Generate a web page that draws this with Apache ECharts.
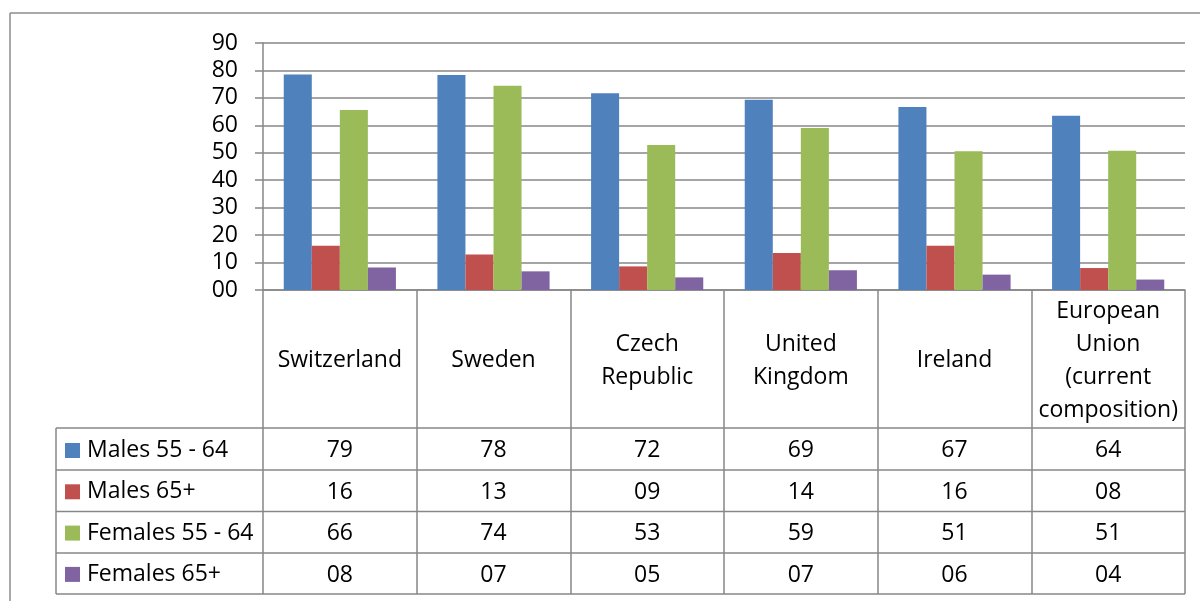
<!DOCTYPE html>
<html>
<head>
<meta charset="utf-8">
<script src="https://cdn.jsdelivr.net/npm/echarts@6/dist/echarts.min.js"></script>
<style>
  html, body { margin: 0; padding: 0; background: #fff; }
  #chart { width: 1200px; height: 601px; }
</style>
</head>
<body>
<div id="chart"></div>
<script>
const categories = ['Switzerland', 'Sweden', 'Czech Republic', 'United Kingdom', 'Ireland', 'European Union (current composition)'];
const seriesNames = ['Males 55 - 64', 'Males 65+', 'Females 55 - 64', 'Females 65+'];
const males5564 = [78.5, 78.3, 71.7, 69.3, 66.7, 63.5];
const males65 = [16.1, 12.9, 8.6, 13.5, 16.1, 8.0];
const females5564 = [65.6, 74.4, 52.8, 59.0, 50.6, 50.7];
const females65 = [8.2, 6.8, 4.6, 7.2, 5.6, 3.8];
const colors = ['#4F81BD', '#C0504D', '#9BBB59', '#8064A2'];
const yMin = 0, yMax = 90, yStep = 10;

const seriesData = [males5564, males65, females5564, females65];
const pad2 = v => String(Math.round(v)).padStart(2, '0');

const FONT = '"Open Sans", "Noto Sans", sans-serif';
const FS = 23;
const LINE = '#878787';

// layout
const gridLeft = 263, gridRight = 1185, gridTop = 43, gridBottom = 290;
const headerBottom = 428;
const rowBounds = [428, 470, 511.5, 553, 594];
const tableLeft = 56;
const textNudge = 1.5;

const chart = echarts.init(document.getElementById('chart'));

const xAxes = [{
  type: 'category',
  data: categories,
  position: 'bottom',
  axisLine: { show: true, lineStyle: { color: LINE, width: 1.5 } },
  axisTick: { show: true, alignWithLabel: false, interval: 0, length: rowBounds[rowBounds.length - 1] - gridBottom, lineStyle: { color: LINE, width: 1.5 } },
  axisLabel: {
    interval: 0,
    margin: (headerBottom - gridBottom) / 2 + textNudge,
    verticalAlign: 'middle',
    color: '#000',
    fontFamily: FONT,
    fontSize: FS,
    lineHeight: 33,
    align: 'center',
    formatter: v => v.replace(/ /g, '\n')
  },
  splitLine: { show: false }
}];
seriesData.forEach((arr, k) => {
  xAxes.push({
    type: 'category',
    data: categories,
    position: 'bottom',
    offset: (rowBounds[k] + rowBounds[k + 1]) / 2 - gridBottom + textNudge,
    axisLine: { show: false },
    axisTick: { show: false },
    splitLine: { show: false },
    axisLabel: {
      interval: 0,
      margin: 0,
      verticalAlign: 'middle',
      color: '#000',
      fontFamily: FONT,
      fontSize: FS,
      formatter: (v, i) => pad2(arr[i])
    }
  });
});

const graphics = [];
rowBounds.forEach(y => {
  graphics.push({ type: 'line', shape: { x1: tableLeft, y1: y, x2: gridRight, y2: y }, style: { stroke: LINE, lineWidth: 1.5 }, silent: true });
});
graphics.push({ type: 'line', shape: { x1: tableLeft, y1: rowBounds[0], x2: tableLeft, y2: rowBounds[rowBounds.length - 1] }, style: { stroke: LINE, lineWidth: 1.5 }, silent: true });
// outer chart border
graphics.push({ type: 'line', shape: { x1: 10, y1: 13, x2: 1200, y2: 13 }, style: { stroke: '#8c8c8c', lineWidth: 1.5 }, silent: true });
graphics.push({ type: 'line', shape: { x1: 10, y1: 13, x2: 10, y2: 601 }, style: { stroke: '#8c8c8c', lineWidth: 1.5 }, silent: true });

const option = {
  animation: false,
  backgroundColor: '#fff',
  color: colors,
  grid: { left: gridLeft, top: gridTop, width: gridRight - gridLeft, height: gridBottom - gridTop, containLabel: false },
  legend: {
    orient: 'vertical',
    left: 65,
    top: (rowBounds[0] + rowBounds[1]) / 2 - 11 + 1,
    padding: 0,
    itemWidth: 15,
    itemHeight: 15,
    itemGap: 18.3,
    icon: 'rect',
    data: seriesNames,
    textStyle: { color: '#000', fontFamily: FONT, fontSize: FS, lineHeight: 22, padding: [0, 0, 0, 2] },
    selectedMode: false
  },
  xAxis: xAxes,
  yAxis: {
    type: 'value',
    min: yMin,
    max: yMax,
    interval: yStep,
    axisLine: { show: true, lineStyle: { color: LINE, width: 1.5 } },
    axisTick: { show: true, inside: false, length: 8, lineStyle: { color: LINE, width: 1.5 } },
    splitLine: { show: true, lineStyle: { color: LINE, width: 1.5 } },
    axisLabel: { color: '#000', fontFamily: FONT, fontSize: FS, margin: 25, formatter: v => pad2(v) }
  },
  series: seriesNames.map((name, k) => ({
    name: name,
    type: 'bar',
    data: seriesData[k],
    barGap: '0%',
    barCategoryGap: '27%',
    itemStyle: { color: colors[k] }
  })),
  graphic: graphics
};
chart.setOption(option);
</script>
</body>
</html>
